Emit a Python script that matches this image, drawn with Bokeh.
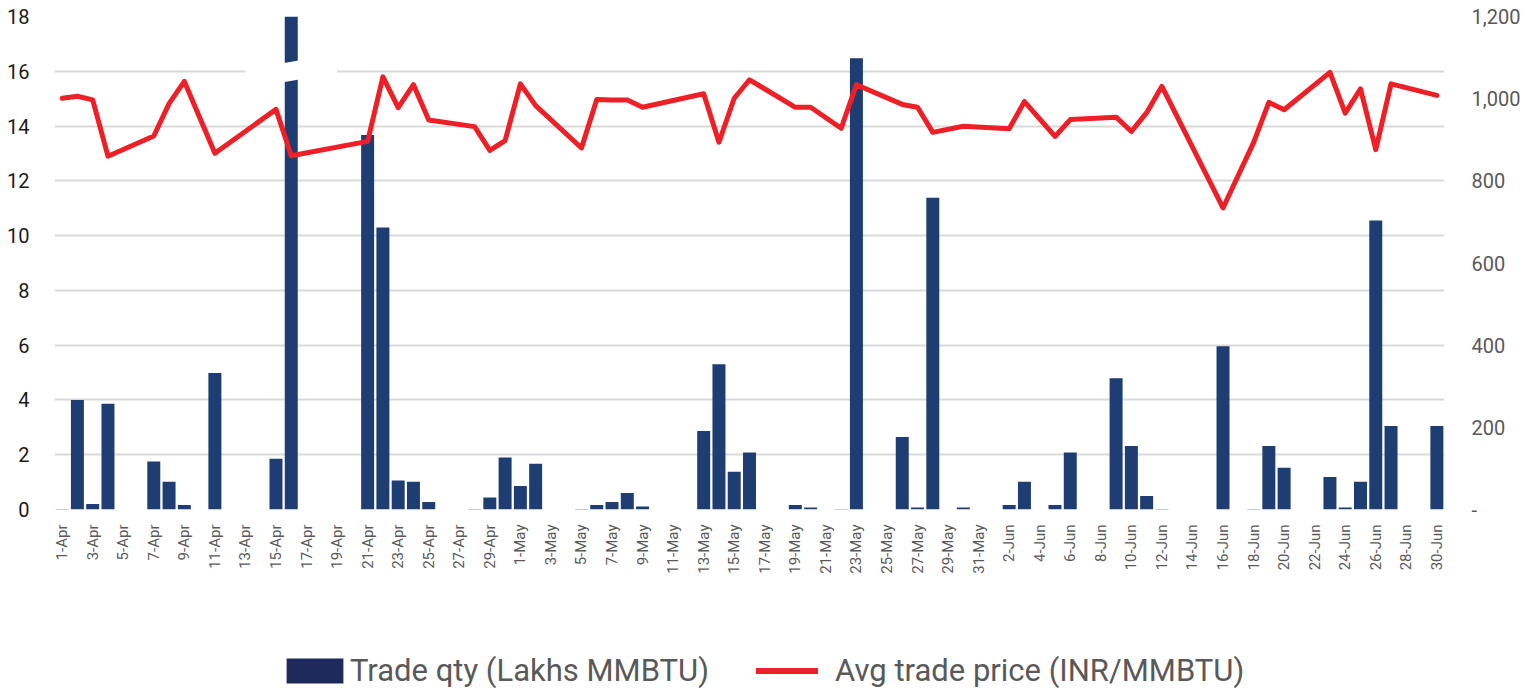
import math
from bokeh.plotting import figure
from bokeh.layouts import column
from bokeh.models import (Range1d, LinearAxis, FixedTicker, Legend, LegendItem)
from bokeh.embed import file_html
from bokeh.resources import INLINE

# ---------------- data ----------------
apr_days = [f"{d}-Apr" for d in range(1, 31)]
may_days = [f"{d}-May" for d in range(1, 32)]
jun_days = [f"{d}-Jun" for d in range(1, 31)]
dates = apr_days + may_days + jun_days

qty_apr = [0.02, 4.0, 0.2, 3.86, 0, 0, 1.75, 1.01, 0.16, 0,
           4.98, 0, 0, 0, 1.85, 22.0, 0, 0, 0, 0,
           13.67, 10.3, 1.06, 1.01, 0.27, 0, 0, 0.02, 0.44, 1.9]
qty_may = [0.86, 1.67, 0, 0, 0.02, 0.16, 0.27, 0.6, 0.11, 0,
           0, 0, 2.87, 5.3, 1.38, 2.08, 0, 0, 0.16, 0.07,
           0, 0.02, 16.48, 0, 0, 2.65, 0.07, 11.38, 0, 0.07, 0]
qty_jun = [0, 0.16, 1.01, 0, 0.16, 2.08, 0, 0, 4.79, 2.32,
           0.49, 0.02, 0, 0, 0, 5.96, 0, 0.02, 2.32, 1.52,
           0, 0, 1.19, 0.07, 1.01, 10.55, 3.05, 0, 0, 3.05]
trade_qty = qty_apr + qty_may + qty_jun

N = None
price_apr = [1001, 1006, 997, 860, N, N, 909, 988, 1042, N,
             867, N, N, N, 974, 861, N, N, N, N,
             896, 1053, 978, 1034, 948, N, N, 932, 874, 898]
price_may = [1036, 983, N, N, 880, 998, 997, 997, 979, N,
             N, N, 1012, 894, 1001, 1046, N, N, 979, 979,
             N, 928, 1034, N, N, 986, 979, 918, N, 933, N]
price_jun = [N, 927, 993, N, 908, 949, N, N, 955, 920,
             966, 1030, N, N, N, 734, N, 893, 991, 973,
             N, N, 1064, 965, 1024, 876, 1036, N, N, 1008]
avg_price = price_apr + price_may + price_jun

qty_ticks = list(range(0, 20, 2))
price_ticks = list(range(0, 1400, 200))
price_labels = {0: "-", 200: "200", 400: "400", 600: "600", 800: "800",
                1000: "1,000", 1200: "1,200"}
broken_day = "16-Apr"
series_names = ["Trade qty (Lakhs MMBTU)", "Avg trade price (INR/MMBTU)"]

# ---------------- styles ----------------
BAR = "#1d3d73"
BAR_LEG = "#1f2a5c"
RED = "#ee1f26"
GRID = "#d9d9d9"
GRAY = "#595959"
FONT = "Roboto"

idx = list(range(len(dates)))

# ---------------- main chart ----------------
p = figure(width=1528, height=630, output_backend="svg", toolbar_location=None,
           x_range=Range1d(-0.5, len(dates) - 0.5), y_range=Range1d(0, 18),
           min_border_left=54, min_border_right=84, min_border_top=16,
           min_border_bottom=121)
p.extra_y_ranges = {"price": Range1d(0, 1200)}
p.outline_line_color = None

p.vbar(x=idx, top=trade_qty, width=0.85, fill_color=BAR, line_color=None)

# axis-break mark on the truncated bar
bi = dates.index(broken_day)
bx = [bi - 3.0, bi + 3.0, bi + 3.0, bi - 3.0]
by = [16.06, 16.64, 15.94, 15.36]
p.patch(bx, by, fill_color="white", line_color=None)

px = [i for i, v in zip(idx, avg_price) if v is not None]
py = [v for v in avg_price if v is not None]
p.line(px, py, y_range_name="price", line_color=RED, line_width=5,
       line_join="round", line_cap="round")

xa = p.xaxis[0]
xa.ticker = FixedTicker(ticks=idx[::2])
xa.major_label_overrides = {i: dates[i] for i in idx[::2]}
xa.major_label_orientation = math.pi / 2
xa.major_label_text_font = FONT
xa.major_label_text_font_size = "15px"
xa.major_label_text_color = GRAY
xa.axis_line_color = None
xa.major_tick_line_color = None
xa.minor_tick_line_color = None
xa.major_label_standoff = 9

ya = p.yaxis[0]
ya.ticker = FixedTicker(ticks=qty_ticks)
ya.major_label_text_font = FONT
ya.major_label_text_font_size = "20px"
ya.major_label_text_color = "#1a1a1a"
ya.axis_line_color = None
ya.major_tick_line_color = None
ya.minor_tick_line_color = None
ya.major_label_standoff = 19

ra = LinearAxis(y_range_name="price", ticker=FixedTicker(ticks=price_ticks))
ra.major_label_overrides = price_labels
ra.major_label_text_font = FONT
ra.major_label_text_font_size = "20px"
ra.major_label_text_color = GRAY
ra.axis_line_color = None
ra.major_tick_line_color = None
ra.minor_tick_line_color = None
ra.major_label_standoff = 21
p.add_layout(ra, "right")

p.xgrid.grid_line_color = None
p.ygrid.ticker = FixedTicker(ticks=qty_ticks)
p.ygrid.grid_line_color = GRID
p.ygrid.grid_line_width = 2

# ---------------- legend strip ----------------
lg = figure(width=1528, height=60, output_backend="svg", toolbar_location=None,
            x_range=Range1d(0, 1), y_range=Range1d(0, 1),
            x_axis_location=None, y_axis_location=None,
            min_border=0)
lg.outline_line_color = None
lg.grid.grid_line_color = None
# legend swatches only (placed outside the visible range)
sw_bar = lg.vbar(x=[5], top=[6], bottom=[5], width=0.5, fill_color=BAR_LEG, line_color=None)
sw_line = lg.line(x=[5, 6], y=[5, 6], line_color=RED, line_width=6, line_cap="round")


def mk_legend(label, rend, loc, gw, gh, standoff):
    return Legend(items=[LegendItem(label=label, renderers=[rend])], location=loc,
                  orientation="horizontal", glyph_width=gw, glyph_height=gh,
                  label_standoff=standoff, padding=0, margin=0, spacing=0,
                  border_line_color=None, background_fill_alpha=0,
                  label_text_font=FONT, label_text_font_size="31px",
                  label_text_color=GRAY)


lg.add_layout(mk_legend(series_names[0], sw_bar, (225, 1), 71, 31, 0), "center")
lg.add_layout(mk_legend(series_names[1], sw_line, (702, 1), 62, 31, 17), "center")

layout = column(p, lg, spacing=0)
open("out.html", "w").write(file_html(layout, INLINE))
